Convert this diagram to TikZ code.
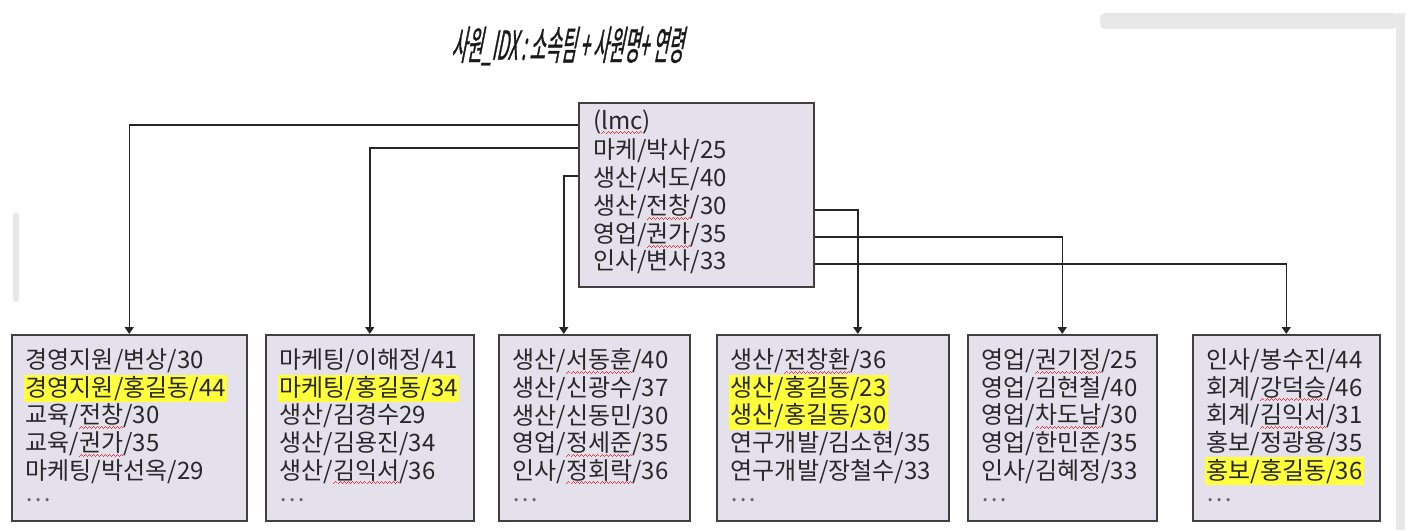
\documentclass[tikz,border=0pt]{standalone}
\usepackage{fontspec}
\setmainfont{Noto Sans CJK KR}
\newfontfamily\titlefont[FakeSlant=0.2,FakeStretch=0.42,FakeBold=0.8]{Noto Sans CJK KR}
\usetikzlibrary{arrows.meta}
\definecolor{boxfill}{RGB}{228,224,236}
\definecolor{boxline}{RGB}{64,64,64}
\definecolor{txt}{RGB}{40,40,40}
\definecolor{hlyellow}{RGB}{255,255,60}
\definecolor{uigray}{RGB}{232,232,232}
\definecolor{spellred}{RGB}{220,60,60}
\newsavebox\wavybox
\newcommand\wavy[1]{\sbox\wavybox{#1}\rlap{\color{spellred}\hbox to \wd\wavybox{\xleaders\hbox{\rule[-5pt]{1pt}{0.9pt}\rule[-4pt]{1pt}{0.9pt}\rule[-3pt]{1pt}{0.9pt}\rule[-4pt]{1pt}{0.9pt}}\hfil}}#1}
\newcommand\hl[1]{\setlength{\fboxsep}{1.5pt}\hspace*{-1.5pt}\colorbox{hlyellow}{#1}}
\newcommand\more{\raisebox{5pt}{\color{black!60}\dots}}
\tikzset{
  rootbox/.style={draw=boxline, line width=1.5pt, fill=boxfill, anchor=north west, minimum width=235pt, minimum height=184pt},
  rowtext/.style={anchor=west, inner sep=0pt, text=txt, font=\fontsize{24}{28}\selectfont},
  leafbox/.style={draw=boxline, line width=1.5pt, fill=boxfill, anchor=north west, align=left,
    minimum height=186pt, inner xsep=14pt, text width=#1, text=txt, font=\fontsize{24}{27.6}\selectfont},
  link/.style={draw=black!85, line width=1.5pt, -{Triangle[length=7pt,width=9pt]}}
}
\begin{document}
\begin{tikzpicture}[x=1pt,y=-1pt]
\useasboundingbox (0,0) rectangle (1412,530);
% screen edges
\fill[uigray, rounded corners=5pt] (1100,13) rectangle (1397,29);
\fill[uigray] (1396,13) rectangle (1405,530);
\fill[uigray, rounded corners=3pt] (13,212) rectangle (19,302);
% title
\node[text=black!90, font=\titlefont\fontsize{40}{40}\selectfont] (title) at (567,46) {사원\_IDX : 소속팀 + 사원명+ 연령};
% index block
\node[rootbox] (root) at (578,102) {};
\node[rowtext] (r1) at (593,122) {(\wavy{lmc})};
\node[rowtext] (r2) at (593,151) {마케/박사/25};
\node[rowtext] (r3) at (593,179) {생산/서도/40};
\node[rowtext] (r4) at (593,207) {생산/\wavy{전창}/30};
\node[rowtext] (r5) at (593,235) {영업/\wavy{권가}/35};
\node[rowtext] (r6) at (593,262) {인사/변사/33};
% data blocks
\node[leafbox=207pt] (b1) at (11,334) {경영지원/변상/30\\ \hl{경영지원/홍길동/44}\\ 교육/\wavy{전창}/30\\ 교육/\wavy{권가}/35\\ 마케팅/박선옥/29\\ \more};
\node[leafbox=180pt] (b2) at (265,334) {마케팅/이해정/41\\ \hl{마케팅/홍길동/34}\\ 생산/김경수29\\ 생산/김용진/34\\ 생산/\wavy{김익서}/36\\ \more};
\node[leafbox=163pt] (b3) at (498,334) {생산/\wavy{서동훈}/40\\ 생산/신광수/37\\ 생산/신동민/30\\ 영업/\wavy{정세준}/35\\ 인사/\wavy{정회락}/36\\ \more};
\node[leafbox=204pt] (b4) at (716,334) {생산/\wavy{전창환}/36\\ \hl{생산/홍길동/23}\\ \hl{생산/홍길동/30}\\ 연구개발/김소현/35\\ 연구개발/장철수/33\\ \more};
\node[leafbox=161pt] (b5) at (967,334) {영업/\wavy{권기정}/25\\ 영업/김현철/40\\ 영업/\wavy{차도남}/30\\ 영업/한민준/35\\ 인사/김혜정/33\\ \more};
\node[leafbox=159pt] (b6) at (1192,334) {인사/봉수진/44\\ 회계/\wavy{강덕승}/46\\ 회계/\wavy{김익서}/31\\ 홍보/정광용/35\\ \hl{홍보/홍길동/36}\\ \more};
% links
\draw[link] ([yshift=-3pt]root.west |- r1) -| (b1.north);
\draw[link] ([yshift=3pt]root.west |- r2) -| (b2.north);
\draw[link] ([yshift=3pt]root.west |- r3) -| ([xshift=-30.5pt]b3.north);
\draw[link] ([yshift=-3pt]root.east |- r4) -| ([xshift=25pt]b4.north);
\draw[link] ([yshift=-2pt]root.east |- r5) -| (b5.north);
\draw[link] ([yshift=-2pt]root.east |- r6) -| (b6.north);
\end{tikzpicture}
\end{document}
